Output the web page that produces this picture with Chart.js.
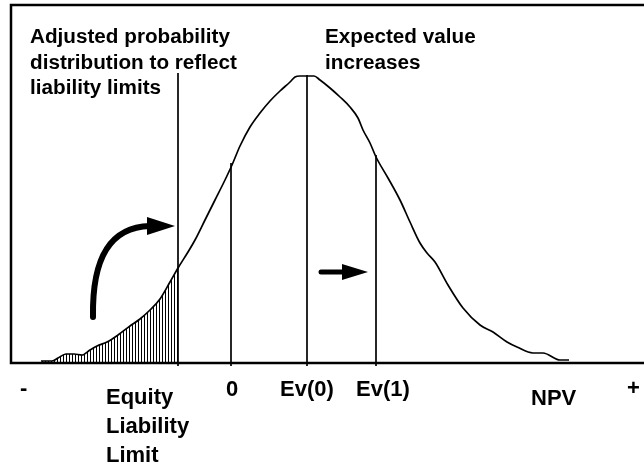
<!DOCTYPE html>
<html>
<head>
<meta charset="utf-8">
<script src="https://cdn.jsdelivr.net/npm/chart.js@4/dist/chart.umd.min.js"></script>
<style>
html,body{margin:0;padding:0;background:#fff;}
canvas{display:block;}
</style>
</head>
<body>
<canvas id="c" width="644" height="468"></canvas>
<script>
// Distribution curve (x position in NPV units, height of density)
const curveX = [41,52,58,66,74,82,90,97,107,118,130,140,150,160,170,178,188,195,205,215,225,232,240,250,260,270,280,290,295,300,314,320,330,340,350,358,363,370,376,388,400,410,420,427,435,448,463,480,493,507,517,533,543,560,569];
const curveY = [2,2,5,9,9,8,13,17,21,28,37,44,53,64,81,95,111,123,143,163,183,198,217,236,250,262,272,281,286,287,287,283,275,266,256,245,233,220,206,185,163,141,120,110,101,78,55,38,31,21,16,10,10,3,3];
// Liability limit (end of hatched region)
const limitX = 178;
// Vertical markers
const markerX = [178, 231, 307, 376];
const markerTop = [290, 200, 288, 208];
const markerBottom = -3;
// Axis labels under the baseline
const bottomLabels = ['-', ['Equity','Liability','Limit'], '0', 'Ev(0)', 'Ev(1)', 'NPV', '+'];
const bottomLabelX = [20, 106, 226, 280, 356, 531, 627];
// Annotation texts
const noteLeft = ['Adjusted probability', 'distribution to reflect', 'liability limits'];
const noteRight = ['Expected value', 'increases'];
// Arrows (in data units)
const curvedArrow = {start:[93,46], c1:[92,105], c2:[110,136], end:[150,137], tip:[175,137], half:9};
const straightArrow = {start:[321,91], end:[344,91], tip:[368,91], half:8};

const curveData = curveX.map((x,i)=>({x, y:curveY[i]}));
const hatchData = curveData.filter(p=>p.x<=limitX);

const pc = document.createElement('canvas');
pc.width = 3; pc.height = 4;
const pctx = pc.getContext('2d');
pctx.fillStyle = '#000';
pctx.fillRect(0,0,1,4);
const hatchPattern = document.getElementById('c').getContext('2d').createPattern(pc,'repeat');

const datasets = [
  {data: hatchData, borderWidth:0, borderColor:'rgba(0,0,0,0)', backgroundColor: hatchPattern, fill:'origin', pointRadius:0, cubicInterpolationMode:'monotone'},
  {data: curveData, borderColor:'#000', borderWidth:1.7, fill:false, pointRadius:0, cubicInterpolationMode:'monotone'}
];
markerX.forEach((x,i)=>{
  datasets.push({data:[{x, y:markerBottom},{x, y:markerTop[i]}], borderColor:'#000', borderWidth:1.7, fill:false, pointRadius:0});
});

const FONT_TOP = 'bold 20.7px "Liberation Sans", Arial, sans-serif';
const FONT_BOTTOM = 'bold 22px "Liberation Sans", Arial, sans-serif';

const decor = {
  id:'decor',
  afterDatasetsDraw(chart){
    const {ctx, scales:{x, y}, chartArea} = chart;
    const X = v=>x.getPixelForValue(v), Y = v=>y.getPixelForValue(v);
    ctx.save();
    // frame
    ctx.strokeStyle = '#000';
    ctx.lineWidth = 2.5;
    ctx.beginPath();
    ctx.moveTo(chartArea.right+2, chartArea.top);
    ctx.lineTo(chartArea.left, chartArea.top);
    ctx.lineTo(chartArea.left, Y(0));
    ctx.lineTo(chartArea.right+2, Y(0));
    ctx.stroke();
    // curved arrow
    const ca = curvedArrow;
    ctx.lineWidth = 6;
    ctx.lineCap = 'round';
    ctx.beginPath();
    ctx.moveTo(X(ca.start[0]), Y(ca.start[1]));
    ctx.bezierCurveTo(X(ca.c1[0]), Y(ca.c1[1]), X(ca.c2[0]), Y(ca.c2[1]), X(ca.end[0]), Y(ca.end[1]));
    ctx.stroke();
    ctx.fillStyle = '#000';
    ctx.beginPath();
    ctx.moveTo(X(ca.end[0]-3), Y(ca.end[1]+ca.half));
    ctx.lineTo(X(ca.tip[0]), Y(ca.tip[1]));
    ctx.lineTo(X(ca.end[0]-3), Y(ca.end[1]-ca.half));
    ctx.closePath();
    ctx.fill();
    // straight arrow
    const sa = straightArrow;
    ctx.lineWidth = 5;
    ctx.beginPath();
    ctx.moveTo(X(sa.start[0]), Y(sa.start[1]));
    ctx.lineTo(X(sa.end[0]), Y(sa.end[1]));
    ctx.stroke();
    ctx.beginPath();
    ctx.moveTo(X(sa.end[0]-2), Y(sa.end[1]+sa.half));
    ctx.lineTo(X(sa.tip[0]), Y(sa.tip[1]));
    ctx.lineTo(X(sa.end[0]-2), Y(sa.end[1]-sa.half));
    ctx.closePath();
    ctx.fill();
    // texts
    ctx.textBaseline = 'alphabetic';
    ctx.textAlign = 'left';
    ctx.font = FONT_TOP;
    noteLeft.forEach((t,i)=>ctx.fillText(t, 30, 43 + i*25.5));
    noteRight.forEach((t,i)=>ctx.fillText(t, 325, 43 + i*25.5));
    ctx.font = FONT_BOTTOM;
    bottomLabels.forEach((lab,i)=>{
      const lines = Array.isArray(lab) ? lab : [lab];
      let base = Array.isArray(lab) ? 404 : 396;
      if (lab === 'NPV') base = 405;
      if (lab === '-' || lab === '+') base = 395;
      lines.forEach((t,j)=>ctx.fillText(t, bottomLabelX[i], base + j*29));
    });
    ctx.restore();
  }
};

new Chart(document.getElementById('c'), {
  type:'line',
  data:{datasets},
  options:{
    responsive:false,
    animation:false,
    layout:{padding:{left:11, top:5, right:0, bottom:102}},
    plugins:{legend:{display:false}, tooltip:{enabled:false}},
    scales:{
      x:{type:'linear', min:11, max:644, display:false},
      y:{min:-3, max:358, display:false}
    },
    elements:{line:{borderCapStyle:'butt'}}
  },
  plugins:[decor]
});
</script>
</body>
</html>
